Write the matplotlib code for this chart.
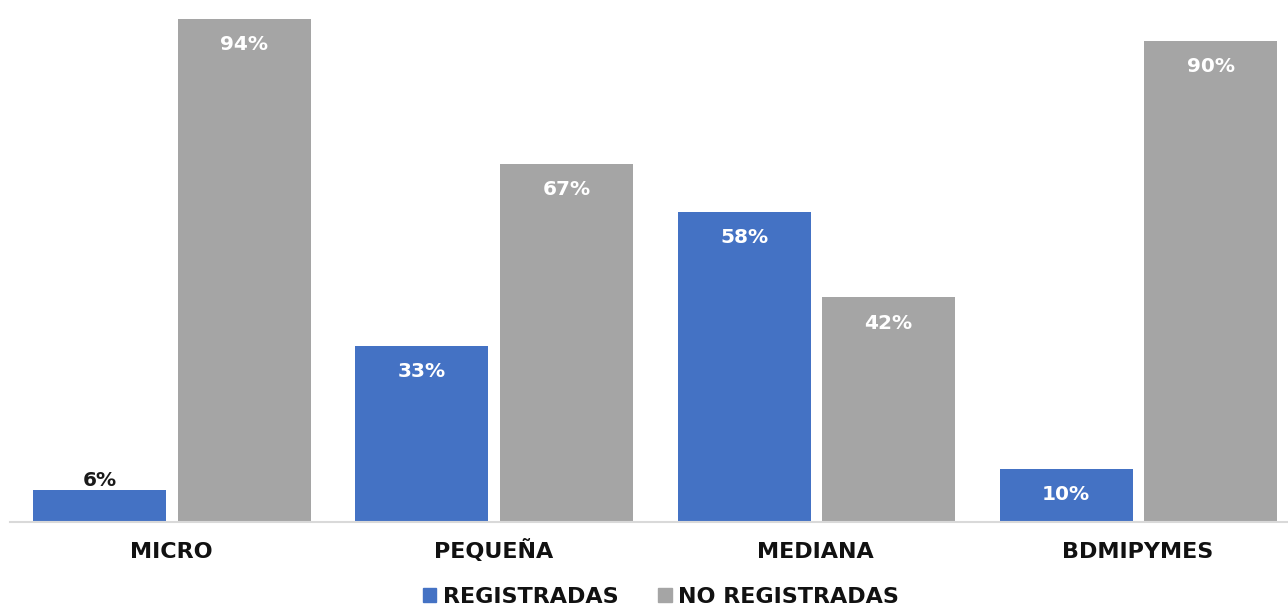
import matplotlib
matplotlib.use("Agg")
import matplotlib.pyplot as plt
from matplotlib.patches import Patch
import numpy as np

categories = ["MICRO", "PEQUEÑA", "MEDIANA", "BDMIPYMES"]
registradas = [6, 33, 58, 10]
no_registradas = [94, 67, 42, 90]
series_names = ["REGISTRADAS", "NO REGISTRADAS"]
colors = ["#4472C4", "#A5A5A5"]

plt.rcParams['font.family'] = ['DejaVu Sans']

fig = plt.figure(figsize=(12.88, 6.06), dpi=100)
ax = fig.add_axes([10/1288, 84/606, 1278/1288, 522/606])

x = np.arange(len(categories))
w = 0.413
off = 0.2245
b1 = ax.bar(x - off + 0.003, registradas, w, color=colors[0])
b2 = ax.bar(x + off + 0.003, no_registradas, w, color=colors[1])

def label(bars, vals):
    for b, v in zip(bars, vals):
        cx = b.get_x() + b.get_width() / 2
        if v < 8:
            ax.annotate(f"{v}%", (cx, v), xytext=(0, 7), textcoords="offset points",
                        ha="center", va="center", fontsize=14.5, fontweight="bold", color="#1a1a1a")
        else:
            ax.annotate(f"{v}%", (cx, v), xytext=(0, -18.5), textcoords="offset points",
                        ha="center", va="center", fontsize=14.5, fontweight="bold", color="white")

label(b1, registradas)
label(b2, no_registradas)

ax.set_xlim(-0.5, 3.467)
ax.set_ylim(0, 97.6)
ax.set_yticks([])
ax.set_xticks(x)
ax.set_xticklabels(categories, fontsize=16, fontweight="bold", color="#111111")
ax.tick_params(axis="x", length=0, pad=26)
for t in ax.get_xticklabels():
    t.set_verticalalignment("baseline")
for s in ["top", "right", "left"]:
    ax.spines[s].set_visible(False)
ax.spines["bottom"].set_color("#D9D9D9")
ax.spines["bottom"].set_linewidth(1.5)

handles = [Patch(color=c) for c in colors]
leg = fig.legend(handles, series_names, loc="center", bbox_to_anchor=(661/1288, 1 - 597/606),
                 ncol=2, frameon=False, handlelength=0.6, handleheight=0.6, handletextpad=0.3,
                 columnspacing=1.8, prop={"size": 16, "weight": "bold"})
for t in leg.get_texts():
    t.set_color("#111111")

fig.savefig("out.png", dpi=100)
